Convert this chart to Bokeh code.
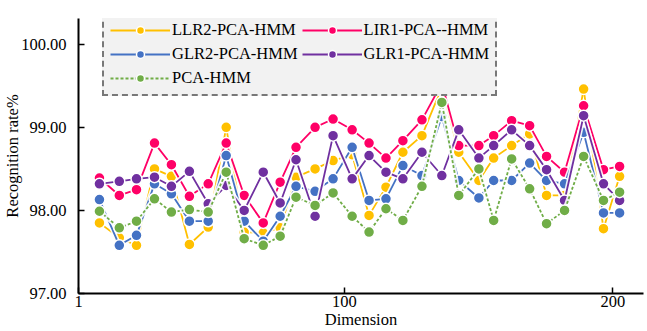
from bokeh.plotting import figure
from bokeh.models import Range1d, FixedTicker, NumeralTickFormatter, Legend, LegendItem
from bokeh.embed import file_html
from bokeh.resources import INLINE

dims = [8.8, 16.2, 22.6, 29.3, 35.6, 42.3, 49.3, 56.0, 62.7, 69.8, 76.1, 82.0, 89.1, 95.8, 102.9,
        109.2, 115.5, 121.8, 128.9, 136.3, 142.6, 150.1, 155.6, 162.3, 169.0, 175.3, 182.0, 189.1, 196.5, 202.5]

llr2 = [97.85, 97.67, 97.58, 98.50, 98.41, 97.59, 97.80, 99.00, 97.74, 97.73, 97.79, 98.40, 98.50, 98.60, 98.67,
        97.94, 98.28, 98.70, 98.90, 99.48, 98.70, 98.36, 98.63, 98.78, 98.92, 98.18, 98.18, 99.46, 97.78, 98.41]
lir1 = [98.39, 98.18, 98.25, 98.81, 98.55, 98.17, 98.32, 98.81, 98.18, 97.85, 98.34, 98.76, 99.00, 99.10, 98.97,
        98.81, 98.63, 98.84, 99.09, 99.53, 98.78, 98.78, 98.90, 99.08, 99.02, 98.65, 98.46, 99.26, 98.49, 98.53]
glr2 = [98.13, 97.58, 97.70, 98.32, 98.20, 97.87, 97.87, 98.66, 97.87, 97.63, 97.93, 98.29, 98.23, 98.38, 98.76,
        98.12, 98.14, 98.54, 98.42, 99.13, 98.36, 98.15, 98.36, 98.36, 98.57, 98.36, 98.32, 98.94, 97.97, 97.97]
glr1 = [98.32, 98.35, 98.38, 98.40, 98.29, 98.47, 98.08, 98.30, 98.00, 98.46, 98.09, 98.61, 97.93, 98.90, 98.38,
        98.66, 98.46, 98.38, 98.70, 98.42, 98.97, 98.63, 98.78, 98.97, 98.78, 98.49, 98.12, 99.14, 98.32, 98.12]
pca = [97.99, 97.79, 97.87, 98.14, 97.98, 98.01, 97.98, 98.46, 97.66, 97.58, 97.69, 98.16, 98.06, 98.21, 97.93,
       97.74, 98.02, 97.88, 98.29, 99.30, 98.18, 98.50, 97.88, 98.62, 98.26, 97.84, 98.00, 98.65, 98.12, 98.22]

names = ["LLR2-PCA-HMM", "LIR1-PCA--HMM", "GLR2-PCA-HMM", "GLR1-PCA-HMM", "PCA-HMM"]
series = [llr2, lir1, glr2, glr1, pca]
colors = ["#FFC000", "#FF0066", "#4472C4", "#7030A0", "#70AD47"]
dashes = ["solid", "solid", "solid", "solid", "3 2"]

x_ticks = [1, 100, 200]
y_ticks = [97, 98, 99, 100]

FONT = "Liberation Serif"
FS = "16.5px"

p = figure(width=647, height=331, output_backend="svg", toolbar_location=None,
           x_range=Range1d(1, 211.4), y_range=Range1d(97, 100.31),
           min_border_left=77, min_border_right=4, min_border_top=18, min_border_bottom=37)
p.grid.visible = False
p.outline_line_color = None
p.background_fill_color = "white"

renderers = {}
for name, vals, col, dash in zip(names, series, colors, dashes):
    p.line(dims, vals, line_color="white", line_width=5, line_alpha=0.9)
    lr = p.line(dims, vals, line_color=col, line_width=1.8, line_dash=dash)
    sr = p.scatter(dims, vals, size=11, fill_color=col, line_color="white", line_width=1.5)
    renderers[name] = [lr, sr]

for ax in (p.xaxis[0], p.yaxis[0]):
    ax.axis_line_width = 2
    ax.axis_line_color = "black"
    ax.major_tick_in = 6
    ax.major_tick_out = 0
    ax.minor_tick_line_color = None
    ax.major_tick_line_width = 1.5
    ax.major_label_text_font = FONT
    ax.major_label_text_font_size = FS
    ax.major_label_text_color = "black"
    ax.axis_label_text_font = FONT
    ax.axis_label_text_font_size = FS
    ax.axis_label_text_font_style = "normal"
    ax.axis_label_text_color = "black"

p.xaxis.ticker = FixedTicker(ticks=x_ticks)
p.yaxis.ticker = FixedTicker(ticks=y_ticks)
p.yaxis.formatter = NumeralTickFormatter(format="0.00")
p.xaxis.axis_label = "Dimension"
p.yaxis.axis_label = "Recognition rate%"
p.xaxis.major_label_standoff = 2
p.xaxis.axis_label_standoff = 0
p.yaxis.major_label_standoff = 12
p.yaxis.axis_label_standoff = -4

order = [0, 2, 4, 1, 3]
items = [LegendItem(label=names[i], renderers=renderers[names[i]]) for i in order]
legend = Legend(items=items, location=(24, 197), ncols=2,
                glyph_width=60, glyph_height=20, label_height=20, label_standoff=2,
                spacing=4, padding=6, margin=0,
                label_text_font=FONT, label_text_font_size=FS, label_text_color="black",
                border_line_color="black", border_line_width=2, border_line_dash="8 4",
                background_fill_color="#F2F2F2", background_fill_alpha=1.0)
p.add_layout(legend)

open("out.html", "w").write(file_html(p, INLINE))
